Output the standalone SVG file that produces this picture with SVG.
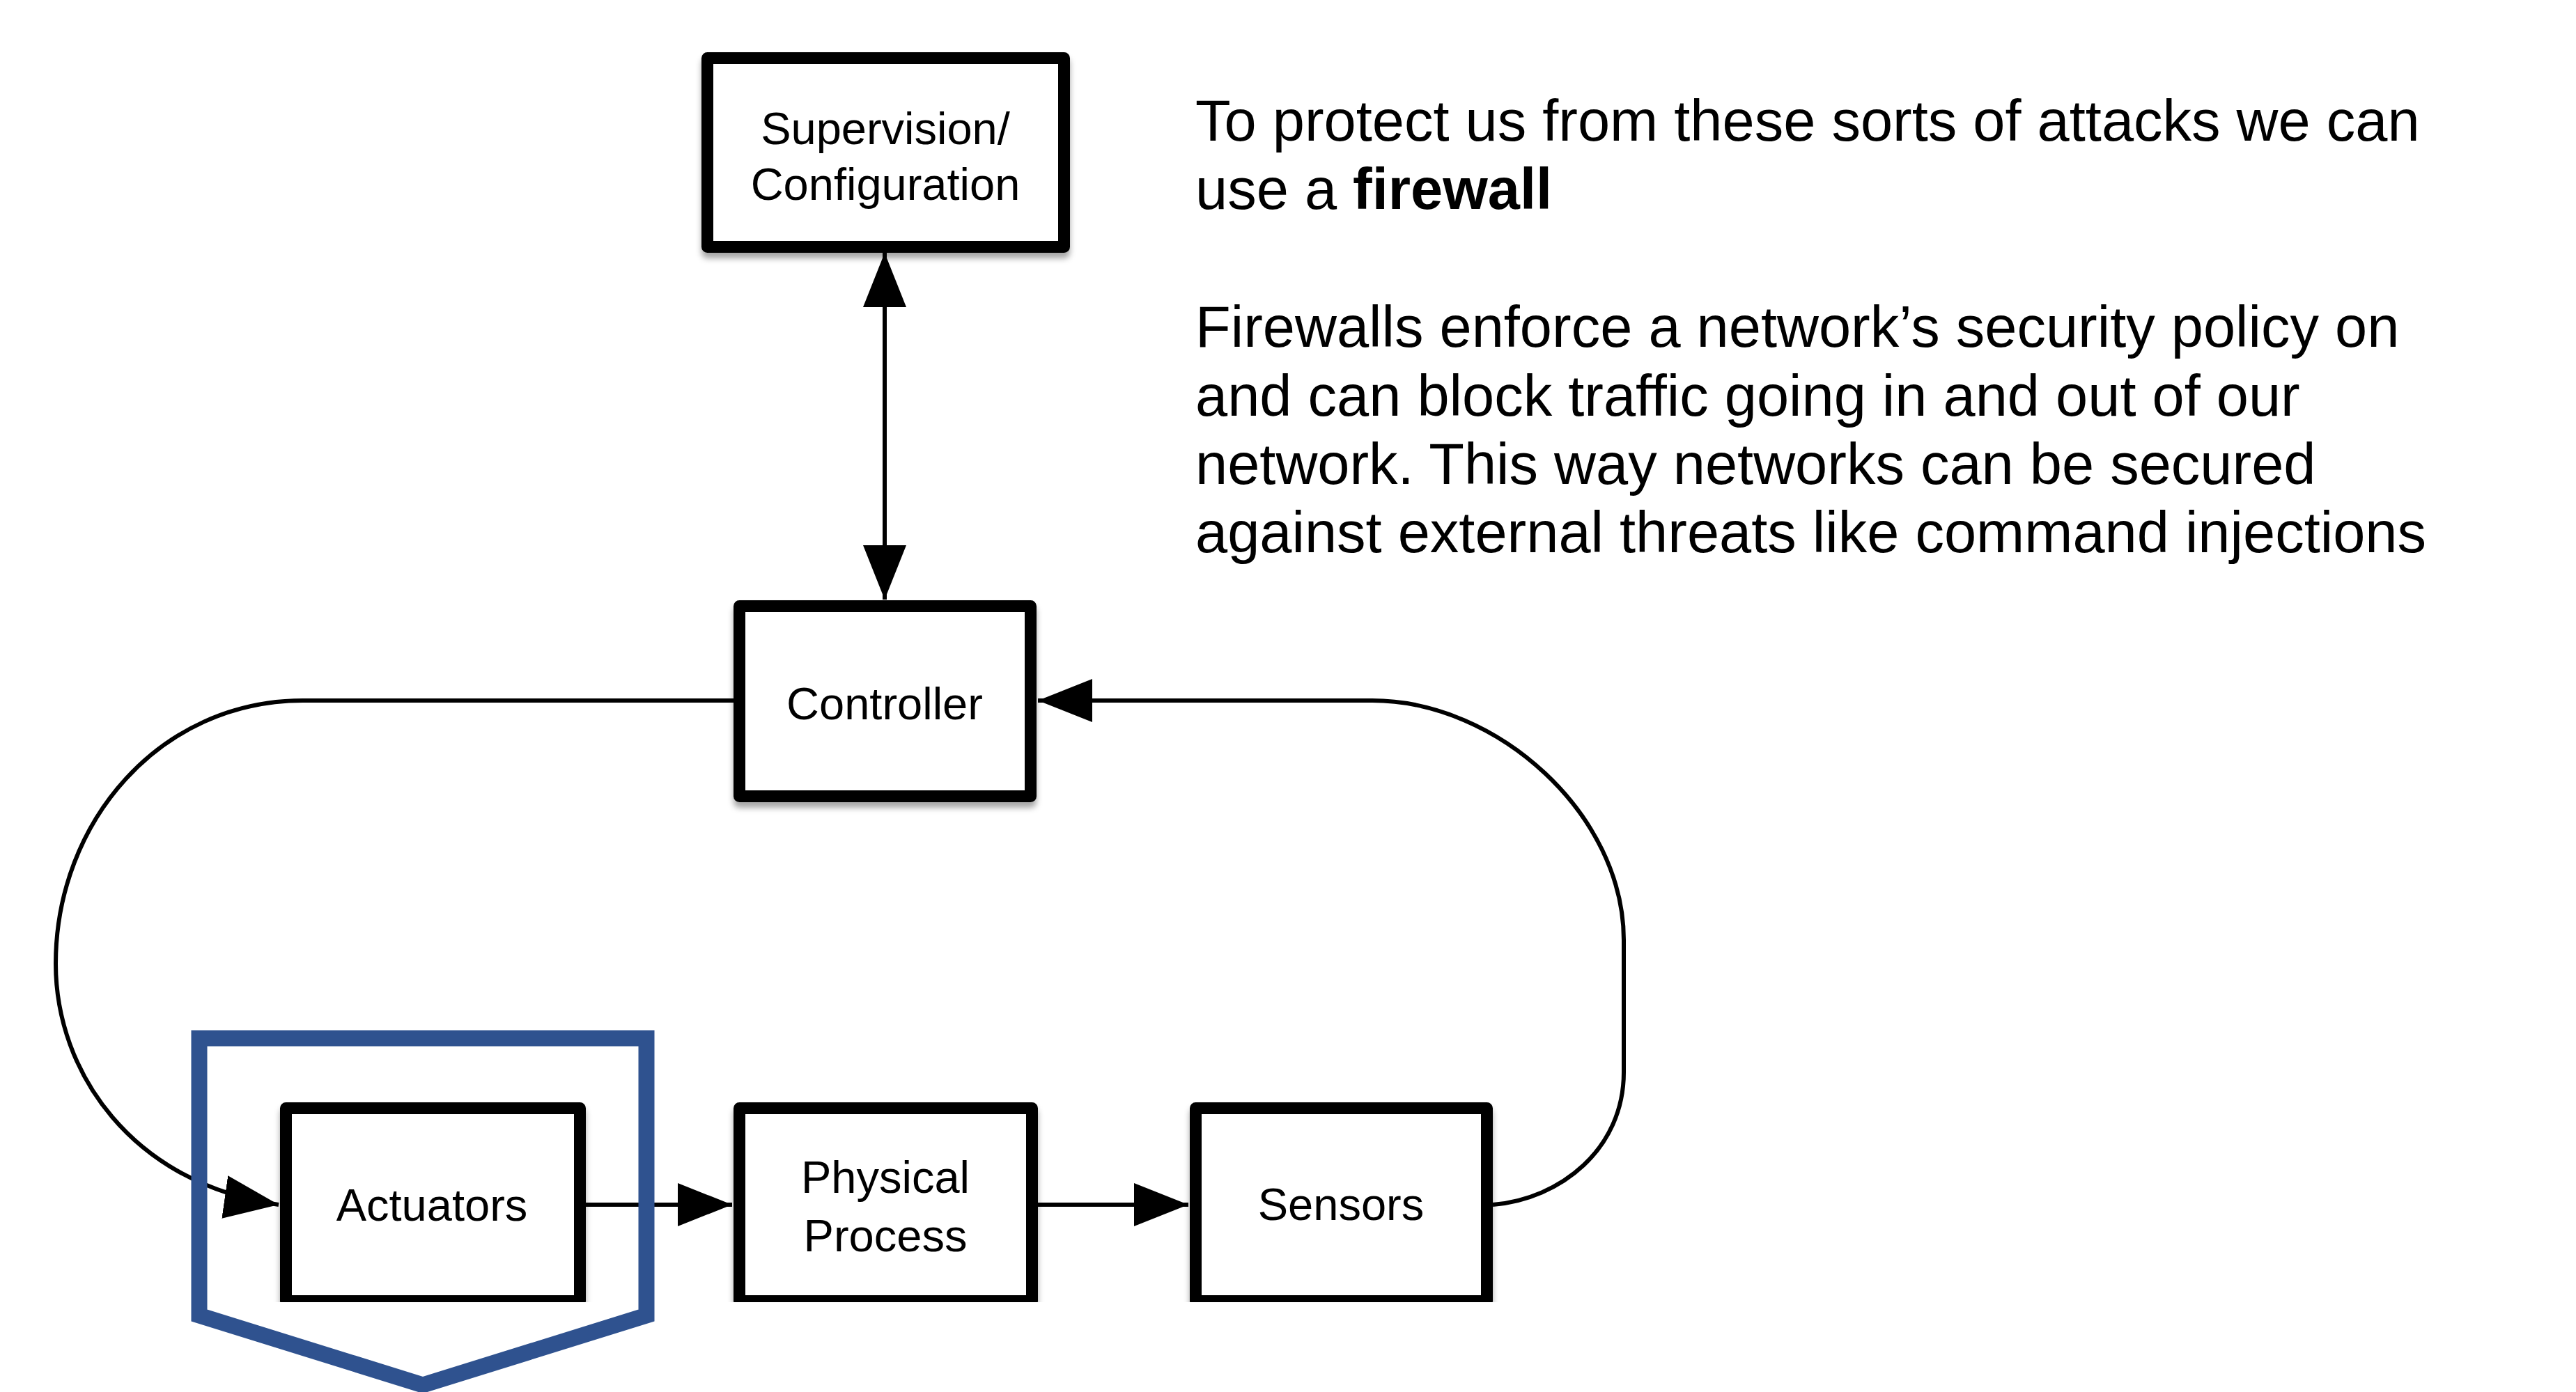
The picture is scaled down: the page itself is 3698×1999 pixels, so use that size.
<svg xmlns="http://www.w3.org/2000/svg" width="3698" height="1999" viewBox="0 0 3698 1999">
<style>
.box{fill:#fff;stroke:#000;stroke-width:17;stroke-linejoin:round;filter:url(#shadow)}
.lbl{font-family:"Liberation Sans",Arial,Helvetica,sans-serif;font-size:65px;fill:#000;text-anchor:middle}
.conn{fill:none;stroke:#000;stroke-width:6}
.body{font-family:"Liberation Sans",Arial,Helvetica,sans-serif;font-size:83px;fill:#000}
</style>
<defs>
<marker id="arrow" markerUnits="userSpaceOnUse" markerWidth="80" markerHeight="64" viewBox="0 0 80 64" refX="78" refY="32" orient="auto-start-reverse">
<path d="M0,1 L78,32 L0,63 Z" fill="#000"/>
</marker>
<filter id="shadow" x="-10%" y="-10%" width="120%" height="130%">
<feDropShadow dx="0" dy="8" stdDeviation="4" flood-color="#000" flood-opacity="0.35"/>
</filter>
<clipPath id="crop"><rect x="0" y="0" width="3698" height="1870"/></clipPath>
</defs>
<rect width="3698" height="1999" fill="#fff"/>

<g id="connectors">
<path class="conn" d="M1270 363 V861" marker-start="url(#arrow)" marker-end="url(#arrow)"/>
<path class="conn" d="M1053 1006 H435 C230 1006 80 1180 80 1384 C80 1540 190 1700 400 1730" marker-end="url(#arrow)"/>
<path class="conn" d="M841 1730 H1051" marker-end="url(#arrow)"/>
<path class="conn" d="M1490 1730 H1706" marker-end="url(#arrow)"/>
<path class="conn" d="M2143 1730 C2240 1722 2331 1650 2331 1540 V1350 C2331 1170 2150 1006 1970 1006 H1490" marker-end="url(#arrow)"/>
</g>

<g id="supervision">
<rect class="box" x="1015.5" y="83.5" width="512" height="271"/>
<text class="lbl" x="1271" y="207">Supervision/</text>
<text class="lbl" x="1271" y="287">Configuration</text>
</g>
<g id="controller">
<rect class="box" x="1061.5" y="870.5" width="418" height="273"/>
<text class="lbl" x="1270" y="1033">Controller</text>
</g>
<g id="actuators" clip-path="url(#crop)">
<rect class="box" x="410.5" y="1591.5" width="422" height="277"/>
<text class="lbl" x="620" y="1753">Actuators</text>
</g>
<g id="physical-process" clip-path="url(#crop)">
<rect class="box" x="1061.5" y="1591.5" width="420" height="277"/>
<text class="lbl" x="1271" y="1713">Physical</text>
<text class="lbl" x="1271" y="1797">Process</text>
</g>
<g id="sensors" clip-path="url(#crop)">
<rect class="box" x="1716.5" y="1591.5" width="418" height="277"/>
<text class="lbl" x="1925" y="1752">Sensors</text>
</g>

<g id="firewall-highlight">
<polygon points="286,1491 928,1491 928,1889 607,1989 286,1889" fill="none" stroke="#2F528F" stroke-width="23"/>
</g>

<g id="caption">
<text class="body" x="1716" y="202">To protect us from these sorts of attacks we can</text>
<text class="body" x="1716" y="300">use a <tspan font-weight="bold">firewall</tspan></text>
<text class="body" x="1716" y="498">Firewalls enforce a network’s security policy on</text>
<text class="body" x="1716" y="597">and can block traffic going in and out of our</text>
<text class="body" x="1716" y="695">network. This way networks can be secured</text>
<text class="body" x="1716" y="793">against external threats like command injections</text>
</g>
</svg>
